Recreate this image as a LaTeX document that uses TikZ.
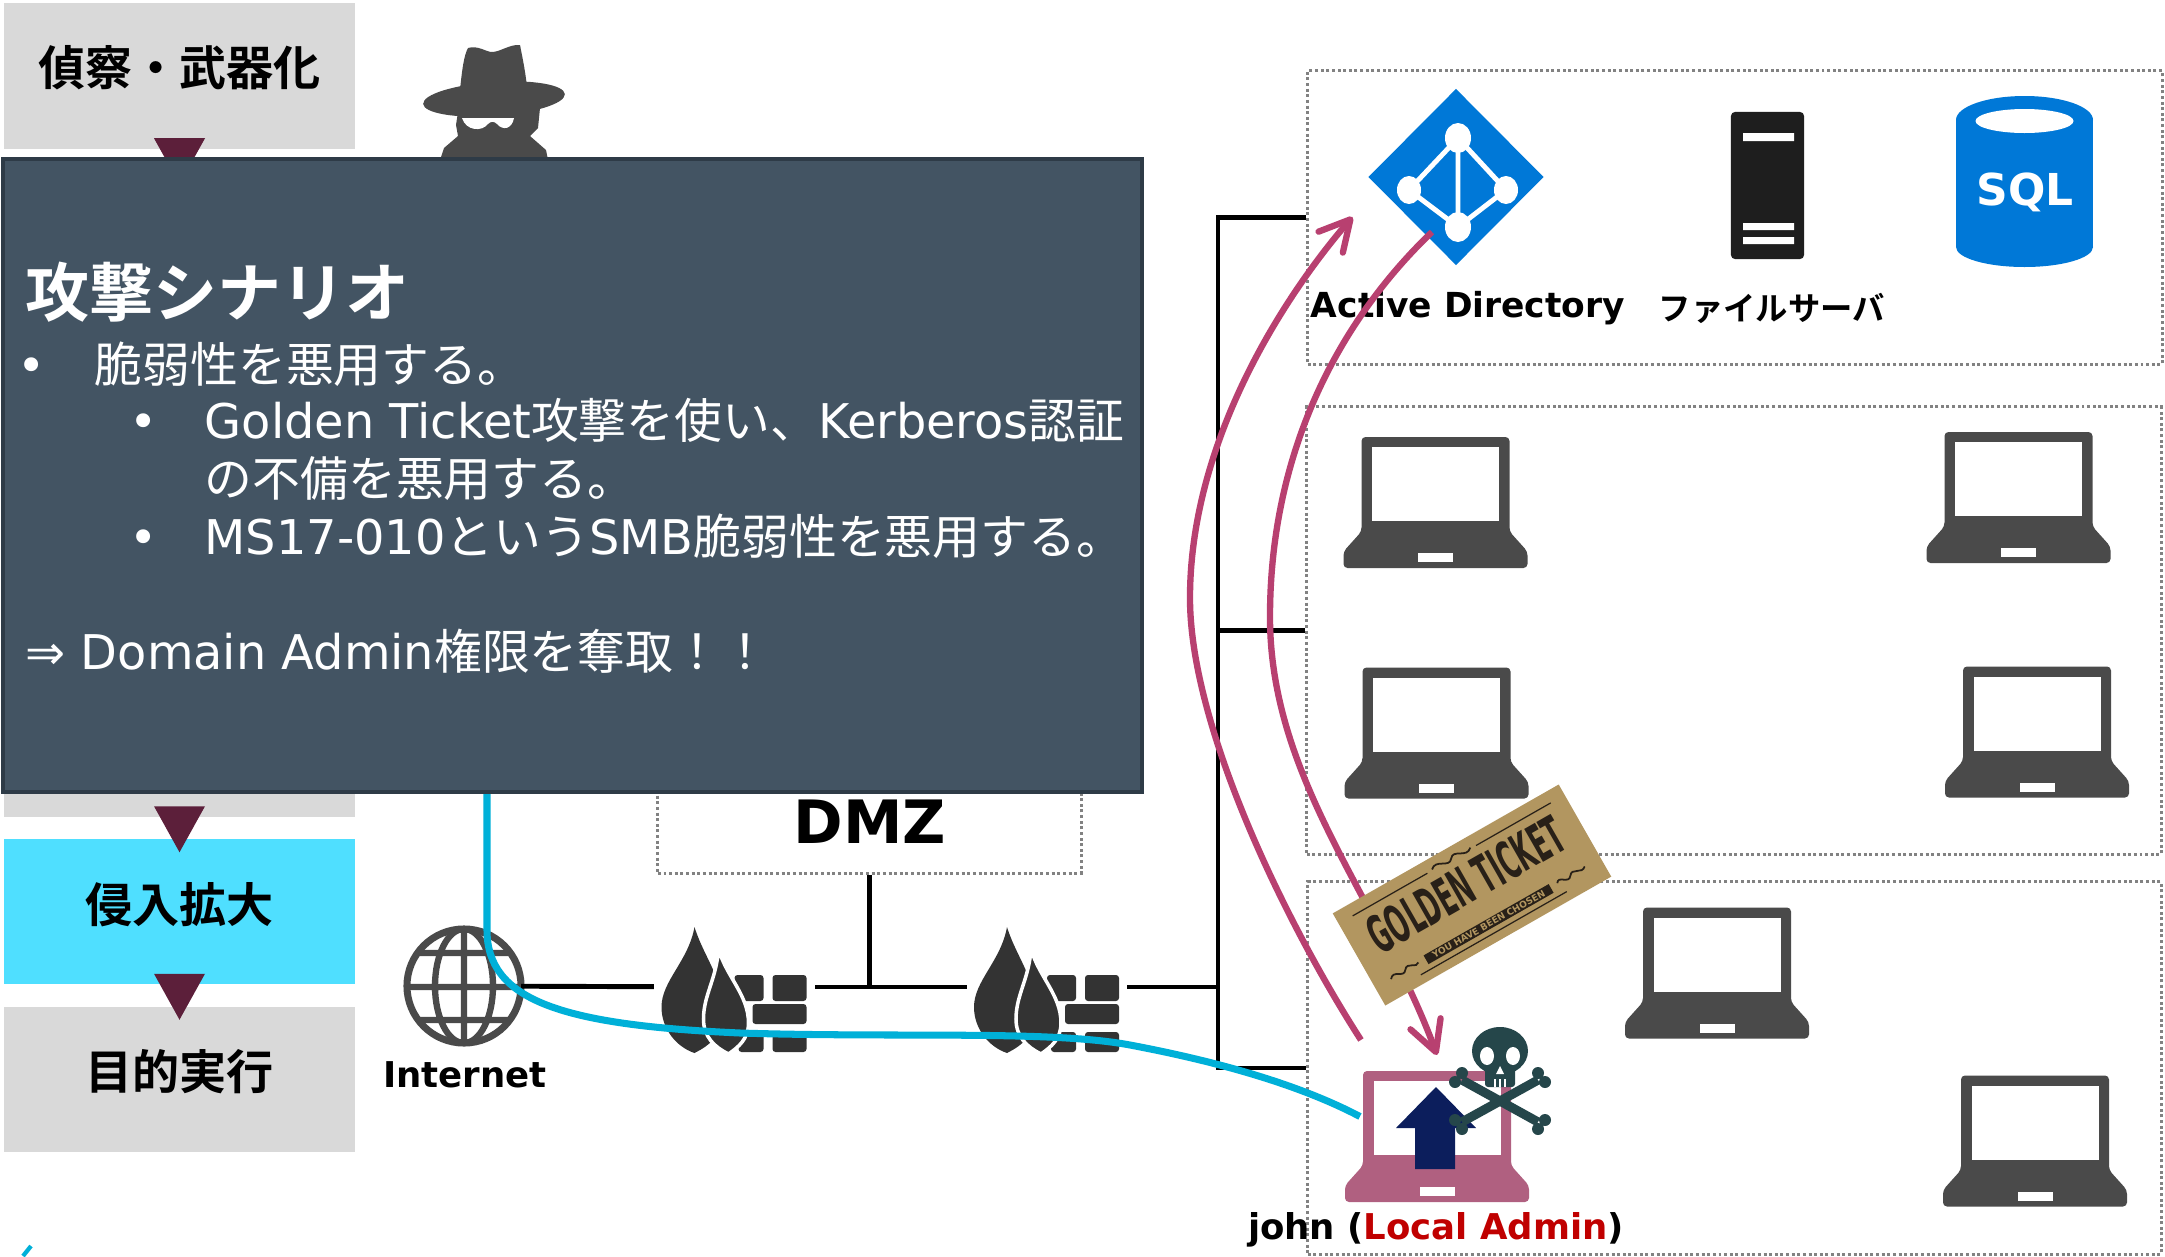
\documentclass[tikz,border=0pt]{standalone}
\usepackage{graphicx}
\usepackage{fontspec}
\setmainfont{DejaVu Sans}
\newfontfamily\jp{Noto Sans CJK JP}[BoldFont={Noto Sans CJK JP Bold}]
\usetikzlibrary{arrows.meta, shapes.geometric}
\definecolor{stagegray}{RGB}{217,217,217}
\definecolor{stagecyan}{RGB}{79,223,255}
\definecolor{flowred}{RGB}{92,31,58}
\definecolor{panelfill}{RGB}{67,84,99}
\definecolor{panelline}{RGB}{46,59,71}
\definecolor{icongray}{RGB}{74,74,74}
\definecolor{fwgray}{RGB}{51,51,51}
\definecolor{adblue}{RGB}{0,120,215}
\definecolor{srvblack}{RGB}{30,30,30}
\definecolor{zonegray}{RGB}{130,130,130}
\definecolor{attackred}{RGB}{184,64,112}
\definecolor{wirecyan}{RGB}{0,176,216}
\definecolor{johnpink}{RGB}{176,96,128}
\definecolor{upnavy}{RGB}{12,30,92}
\definecolor{skullteal}{RGB}{37,70,74}
\definecolor{tickettan}{RGB}{178,150,96}
\definecolor{ticketink}{RGB}{40,32,24}
\definecolor{adminred}{RGB}{192,0,0}
\tikzset{
  pics/laptop/.style={code={
    \fill[#1, rounded corners=0.04cm] (-74,29) -- (-74,-65.5) -- (74,-65.5) -- (74,29) -- (92,49) -- (92,65.5) -- (-92,65.5) -- (-92,49) -- cycle;
    \fill[white] (-63.5,-55.5) rectangle (63.5,18.5);
    \fill[white] (-17.5,50.5) rectangle (17.5,59.5);
  }},
  pics/firewall/.style={code={
    \fill[fwgray, rounded corners=0.03cm] (0,-12) rectangle (29,14) (38,-12) rectangle (72,14) (18,17) rectangle (72,37) (4,45) rectangle (29,65) (38,45) rectangle (72,65);
    \fill[fwgray] (-40,-60) .. controls (-30,-28) and (-10,-8) .. (-12,28) .. controls (-13,48) and (-24,58) .. (-40,66) .. controls (-58,60) and (-73,42) .. (-73,20) .. controls (-73,-6) and (-46,-26) .. (-40,-60) -- cycle;
    \filldraw[fill=fwgray, draw=white, line width=1pt] (-16,-38) .. controls (-8,-10) and (14,8) .. (14,36) .. controls (14,52) and (4,60) .. (-6,67) .. controls (-20,60) and (-31,50) .. (-31,32) .. controls (-31,8) and (-18,-8) .. (-16,-38) -- cycle;
  }}
}

\begin{document}
\begin{tikzpicture}[x=0.01cm, y=-0.01cm,
  stage/.style={fill=stagegray, minimum width=3.51cm, minimum height=1.45cm, inner sep=0},
  stagetext/.style={inner sep=0, font=\jp\bfseries\fontsize{13.4}{16}\selectfont},
  flowmark/.style={fill=flowred},
  spyicon/.style={fill=icongray},
  zone/.style={draw=zonegray, line width=0.85pt, dash pattern=on 0.85pt off 0.75pt, inner sep=0},
  net/.style={line width=1.4pt},
  iconbox/.style={inner sep=0, outer sep=0},
  netlabel/.style={anchor=base, inner sep=0, font=\bfseries\fontsize{10.1}{12}\selectfont},
  panel/.style={fill=panelfill, draw=panelline, line width=1.1pt, minimum width=11.39cm, minimum height=6.33cm, inner sep=0},
  paneltext/.style={anchor=base west, text=white, inner sep=0, font=\fontsize{13.6}{15}\selectfont},
  attack/.style={draw=attackred, line width=1.8pt, -{Straight Barb[length=3mm, width=3.2mm, round]}},
  intrusion/.style={draw=wirecyan, line width=2pt}
]
  \fill[white] (0,0) rectangle (2165,1257);
  \useasboundingbox (0,0) rectangle (2165,1257);

  \node[stage] (recon) at (179.5,76) {};
  \node[stage] (stage5) at (179.5,744) {};
  \node[stage, fill=stagecyan] (spread) at (179.5,911.5) {};
  \node[stage] (goal) at (179.5,1079.5) {};
  \node[stagetext] (recontext) at ([shift={(0,-8)}]recon.center) {偵察・武器化};
  \node[stagetext] (spreadtext) at ([shift={(0,-7)}]spread.center) {侵入拡大};
  \node[stagetext] (goaltext) at ([shift={(0,-8)}]goal.center) {目的実行};
  \fill[flowmark] ([shift={(-25.5,-11)}]recon.south) -- ++(51,0) -- ++(-25.5,46) -- cycle;
  \fill[flowmark] ([shift={(-25.5,-11)}]stage5.south) -- ++(51,0) -- ++(-25.5,46) -- cycle;
  \fill[flowmark] ([shift={(-25.5,-11)}]spread.south) -- ++(51,0) -- ++(-25.5,46) -- cycle;

  \node[iconbox, minimum width=1.4cm, minimum height=1.14cm] (spy) at (494,100) {};
  \fill[spyicon] (460,90) .. controls (462,70) and (464,55) .. (468,48) .. controls (478,45) and (486,52) .. (492,52) .. controls (500,52) and (510,44) .. (520,45) .. controls (523,60) and (526,75) .. (527,88) -- cycle;
  \fill[spyicon, rotate around={4:(494,99)}] (494,99) ellipse [x radius=71, y radius=17];
  \fill[spyicon] (458,112) -- (540,108) -- (538,128) -- (530,136) -- (546,150) -- (548,160) -- (440,160) -- (444,148) -- (458,136) -- (456,125) -- cycle;
  \fill[white] (462,118) .. controls (466,131) and (482,132) .. (488,124) .. controls (491,121) and (494,121) .. (497,124) .. controls (503,131) and (512,129) .. (514,118) -- cycle;

  \node[zone, minimum width=4.23cm, minimum height=2.23cm] (dmz) at (869.5,761.5) {};
  \node[netlabel, font=\bfseries\fontsize{17}{20}\selectfont] (dmzlabel) at (870,843) {DMZ};
  \node[zone, minimum width=8.54cm, minimum height=2.93cm] (srv) at (1735,217.5) {};
  \node[zone, minimum width=8.54cm, minimum height=4.47cm] (lan) at (1734,630.5) {};
  \node[zone, minimum width=8.53cm, minimum height=3.72cm] (seg) at (1734.5,1068) {};

  \node[iconbox, circle, draw=icongray, line width=2pt, minimum size=1.14cm] (web) at (464,986) {};
  \begin{scope}[shift={(web.center)}]
    \clip (0,0) circle [radius=57];
    \draw[icongray, line width=1.8pt] (0,0) ellipse [x radius=29, y radius=57] (0,-57) -- (0,57) (-60,-33) -- (60,-33) (-60,1) -- (60,1) (-60,34) -- (60,34);
  \end{scope}
  \node[netlabel] (weblabel) at (465,1087) {Internet};

  \node[iconbox, minimum width=1.61cm, minimum height=1.3cm] (fw1) at (734.5,987) {};
  \node[iconbox, minimum width=1.6cm, minimum height=1.3cm] (fw2) at (1047,987) {};
  \pic at (fw1) {firewall};
  \pic at (fw2) {firewall};
  \coordinate (bus) at (1218,987);

  \draw[net] (web) -- (fw1);
  \draw[net] (fw1) -- (fw2);
  \draw[net] (dmz.south) -- (dmz.south |- fw1.east);
  \draw[net] (fw2.east) -- (bus);
  \draw[net] (srv.west) -- (srv.west -| bus) -- (seg.west -| bus) -- (seg.west);
  \draw[net] (lan.west) -- (lan.west -| bus);

  \node[iconbox, diamond, fill=adblue, minimum width=1.75cm, minimum height=1.76cm] (ad) at (1456,177) {};
  \begin{scope}[shift={(ad.center)}]
    \draw[white, line width=1.4pt] (2,-39) -- (-47,13) -- (2,50) -- (50,13) -- cycle (2,-39) -- (2,50);
    \fill[white] (2,-39) ellipse [x radius=13, y radius=15] (-47,13) ellipse [x radius=12, y radius=14] (50,13) ellipse [x radius=12, y radius=14] (2,50) ellipse [x radius=13, y radius=15];
  \end{scope}
  \node[netlabel, font=\bfseries\fontsize{9.8}{12}\selectfont] (adlabel) at (1468,317) {Active Directory};

  \node[iconbox, fill=srvblack, rounded corners=0.04cm, minimum width=0.73cm, minimum height=1.47cm] (fs) at (1767.5,185.5) {};
  \begin{scope}[shift={(fs.center)}]
    \fill[white] (-24.5,-52.5) rectangle (26.5,-44.5) (-24.5,37.5) rectangle (26.5,44.5) (-24.5,51.5) rectangle (26.5,58.5);
  \end{scope}
  \node[font=\jp\bfseries\fontsize{9.2}{10}\selectfont] (fslabel) at (1772,308) {ファイルサーバ};

  \node[iconbox, minimum width=1.37cm, minimum height=1.71cm] (db) at (2024.5,181.5) {};
  \begin{scope}[shift={(db.center)}]
    \fill[adblue] (-68.5,-61.5) rectangle (68.5,65.5);
    \fill[adblue] (0,65.5) ellipse [x radius=68.5, y radius=20];
    \fill[adblue] (0,-61.5) ellipse [x radius=68.5, y radius=24];
    \fill[white] (0,-60.5) ellipse [x radius=49, y radius=12];
  \end{scope}
  \node[netlabel, text=white, font=\bfseries\fontsize{12.5}{14}\selectfont] (dblabel) at (2025,205) {SQL};

  \pic at (1435.5,502.5) {laptop=icongray};
  \pic at (2018.5,497.5) {laptop=icongray};
  \pic at (1436.5,733) {laptop=icongray};
  \pic at (2037,732) {laptop=icongray};
  \pic at (1717,973) {laptop=icongray};
  \pic at (2035,1141) {laptop=icongray};
  \node[iconbox, minimum width=1.84cm, minimum height=1.31cm] (john) at (1437,1136.5) {};
  \pic at (john) {laptop=johnpink};
  \fill[upnavy] ([shift={(-1,-49.5)}]john.center) -- ++(40,41) -- ++(-21,0) -- ++(0,41) -- ++(-40,0) -- ++(0,-41) -- ++(-19,0) -- cycle;
  \draw[skullteal, line width=2.6pt] (1462,1080) -- (1538,1122) (1538,1080) -- (1462,1122);
  \fill[skullteal] (1455,1082) circle [radius=6] (1462,1073) circle [radius=6] (1545,1120) circle [radius=6] (1538,1129) circle [radius=6] (1538,1073) circle [radius=6] (1545,1082) circle [radius=6] (1462,1129) circle [radius=6] (1455,1120) circle [radius=6];
  \fill[skullteal] (1500,1051) ellipse [x radius=28, y radius=24];
  \fill[skullteal, rounded corners=0.03cm] (1485,1060) rectangle (1515,1087);
  \fill[white] (1487,1056) ellipse [x radius=7, y radius=9] (1513,1056) ellipse [x radius=7, y radius=9];
  \fill[white] (1500,1066) -- (1496,1074) -- (1504,1074) -- cycle;
  \draw[white, line width=0.5pt] (1495,1079) -- (1495,1087) (1500,1079) -- (1500,1087) (1505,1079) -- (1505,1087);
  \node[netlabel] (johnlabel) at (1436,1239) {john (\textcolor{adminred}{Local Admin})};

  \draw[intrusion] ([shift={(-7,0)}]spy.south) -- (487,930) .. controls (487,1000) and (560,1025) .. (740,1033) .. controls (900,1038) and (1050,1030) .. (1130,1045) .. controls (1220,1062) and (1300,1085) .. ([shift={(15,-20)}]john.west);
  \draw[wirecyan, line width=1.2pt] (23,1256) -- (31,1246);

  \node[panel] (scenario) at (572.5,475.5) {};
  \node[paneltext, font=\jp\bfseries\fontsize{18.2}{20}\selectfont] (title) at (25,316) {攻撃シナリオ};
  \node[paneltext] (dot1) at (17,382) {•};
  \node[paneltext] (line1) at (94,382) {{\jp 脆弱性を悪用する。}};
  \node[paneltext] (dot2) at (129,438) {•};
  \node[paneltext] (line2) at (204,438) {Golden Ticket{\jp 攻撃を使い、}Kerberos{\jp 認証}};
  \node[paneltext] (line3) at (204,496) {{\jp の不備を悪用する。}};
  \node[paneltext] (dot3) at (129,554) {•};
  \node[paneltext] (line4) at (204,554) {MS17-010{\jp という}SMB{\jp 脆弱性を悪用する。}};
  \node[paneltext] (line5) at (25,669) {⇒ Domain Admin{\jp 権限を奪取！！}};

  \draw[attack] ([shift={(16,-31)}]john.north west) .. controls (1290,930) and (1190,730) .. (1190,598) .. controls (1190,440) and (1285,295) .. ([shift={(-16,40)}]ad.west);
  \draw[attack] ([shift={(-24,55)}]ad.center) .. controls (1340,320) and (1270,450) .. (1270,617) .. controls (1270,780) and (1380,900) .. ([shift={(0,-16)}]john.north);

  \node[iconbox, fill=tickettan, minimum width=2.6cm, minimum height=1.06cm, rotate=29.7] (ticket) at (1472,895) {};
  \begin{scope}[shift={(ticket.center)}, rotate=29.7]
    \draw[ticketink, line width=0.35pt] (-114,-41) -- (-28,-41) (28,-41) -- (114,-41) (-84,44) -- (84,44);
    \fill[ticketink] (-72,28.5) rectangle (72,38.5);
    \draw[ticketink, line width=0.5pt] (-22,-42) .. controls (-14,-50) and (-6,-34) .. (0,-42) .. controls (6,-50) and (14,-34) .. (22,-42);
    \draw[ticketink, line width=0.5pt] (-112,33) .. controls (-106,25) and (-100,39) .. (-95,32) .. controls (-90,25) and (-84,37) .. (-80,32);
    \draw[ticketink, line width=0.5pt] (80,32) .. controls (84,25) and (90,39) .. (95,32) .. controls (100,25) and (106,37) .. (112,31);
    \node[rotate=29.7, text=ticketink, inner sep=0, font=\bfseries\fontsize{14.8}{16}\selectfont] (ticketname) at (0,-12) {\scalebox{0.47}[1]{GOLDEN TICKET}};
    \node[rotate=29.7, text=tickettan, inner sep=0, font=\bfseries\fontsize{2.6}{3}\selectfont] (ticketline) at (0,33.5) {YOU HAVE BEEN CHOSEN};
  \end{scope}
\end{tikzpicture}
\end{document}
